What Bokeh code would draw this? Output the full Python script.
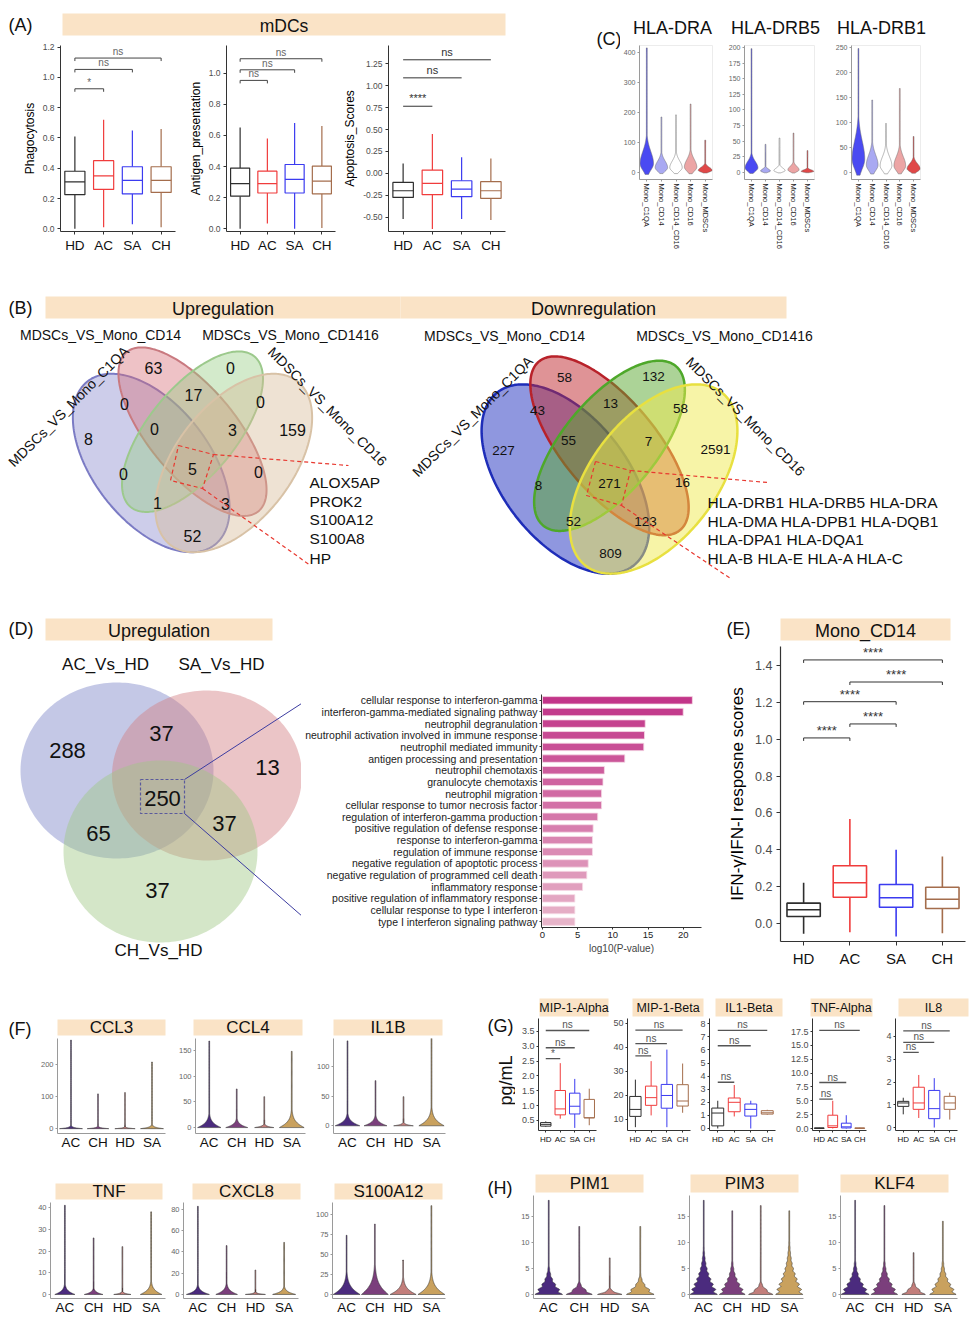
import math
import numpy as np
from bokeh.plotting import figure
from bokeh.layouts import row, column
from bokeh.models import Range1d, FactorRange, FixedTicker, NumeralTickFormatter
from bokeh.core.properties import value
from bokeh.embed import file_html
from bokeh.resources import INLINE

FONT = "Liberation Sans"
BEIGE = "#fae3c6"

# ================= DATA =================
# ---- (A) mDCs scores ----
GROUPS = ["HD", "AC", "SA", "CH"]
GROUP_COLORS = ["#2e2e2e", "#f03c3c", "#3b3bf0", "#a46d4c"]

PHAGO_LOW = [0.00, 0.01, 0.03, 0.01]
PHAGO_Q1 = [0.225, 0.26, 0.23, 0.24]
PHAGO_MED = [0.31, 0.35, 0.32, 0.32]
PHAGO_Q3 = [0.38, 0.45, 0.41, 0.41]
PHAGO_HIGH = [0.61, 0.72, 0.65, 0.66]
PHAGO_TESTS = [("HD", "AC", 0.925, "*"), ("HD", "SA", 1.053, "ns"), ("HD", "CH", 1.128, "ns")]
PHAGO_TICKS = [0.0, 0.2, 0.4, 0.6, 0.8, 1.0, 1.2]

ANTIGEN_LOW = [0.00, 0.035, 0.00, 0.005]
ANTIGEN_Q1 = [0.21, 0.23, 0.23, 0.225]
ANTIGEN_MED = [0.29, 0.29, 0.317, 0.306]
ANTIGEN_Q3 = [0.39, 0.37, 0.413, 0.403]
ANTIGEN_HIGH = [0.65, 0.58, 0.68, 0.66]
ANTIGEN_TESTS = [("HD", "AC", 0.953, "ns"), ("HD", "SA", 1.021, "ns"), ("HD", "CH", 1.092, "ns")]
ANTIGEN_TICKS = [0.0, 0.2, 0.4, 0.6, 0.8, 1.0]

APOP_LOW = [-0.52, -0.635, -0.52, -0.533]
APOP_Q1 = [-0.274, -0.243, -0.266, -0.285]
APOP_MED = [-0.198, -0.114, -0.179, -0.198]
APOP_Q3 = [-0.103, 0.038, -0.084, -0.095]
APOP_HIGH = [0.114, 0.449, 0.183, 0.171]
APOP_TESTS = [("HD", "AC", 0.766, "****"), ("HD", "SA", 1.09, "ns"), ("HD", "CH", 1.296, "ns")]
APOP_TICKS = [-0.5, -0.25, 0.0, 0.25, 0.5, 0.75, 1.0, 1.25]

# ---- (C) HLA violins ----
C_CELLS = ["Mono_C1QA", "Mono_CD14", "Mono_CD14_CD16", "Mono_CD16", "Mono_MDSCs"]
C_COLORS = ["#4a4af2", "#a9a9f2", "#ffffff", "#eca5a5", "#e04848"]
C_GENES = ["HLA-DRA", "HLA-DRB5", "HLA-DRB1"]
DRA_MAX = [415, 185, 192, 228, 108]
DRA_BULK = [100, 55, 55, 62, 25]
DRA_WIDTH = [0.92, 0.85, 0.85, 0.85, 0.95]
DRB5_MAX = [198, 45, 55, 63, 35]
DRB5_BULK = [25, 8, 10, 14, 6]
DRB5_WIDTH = [0.92, 0.7, 0.8, 0.8, 0.9]
DRB1_MAX = [248, 145, 98, 168, 72]
DRB1_BULK = [90, 50, 45, 45, 25]
DRB1_WIDTH = [0.92, 0.85, 0.85, 0.85, 0.95]
DRA_TICKS = [0, 100, 200, 300, 400]
DRB5_TICKS = [0, 25, 50, 75, 100, 125, 150, 175, 200]
DRB1_TICKS = [0, 50, 100, 150, 200, 250]

# ---- (B) Venn counts ----
VENN4_SETS = ["MDSCs_VS_Mono_C1QA", "MDSCs_VS_Mono_CD14", "MDSCs_VS_Mono_CD1416", "MDSCs_VS_Mono_CD16"]
UP_COUNTS = [63, 0, 0, 17, 0, 8, 0, 3, 159, 0, 5, 0, 1, 3, 52]
UP_GENES = ["ALOX5AP", "PROK2", "S100A12", "S100A8", "HP"]
DOWN_COUNTS = [58, 132, 43, 13, 58, 227, 55, 7, 2591, 8, 271, 16, 52, 123, 809]
DOWN_GENES = ["HLA-DRB1 HLA-DRB5 HLA-DRA", "HLA-DMA HLA-DPB1 HLA-DQB1",
              "HLA-DPA1 HLA-DQA1", "HLA-B  HLA-E HLA-A HLA-C"]

# ---- (D) Venn + GO ----
D_SETS = ["AC_Vs_HD", "SA_Vs_HD", "CH_Vs_HD"]
D_COUNTS = [288, 37, 13, 250, 65, 37, 37]
GO_TERMS = [
    "cellular response to interferon-gamma",
    "interferon-gamma-mediated signaling pathway",
    "neutrophil degranulation",
    "neutrophil activation involved in immune response",
    "neutrophil mediated immunity",
    "antigen processing and presentation",
    "neutrophil chemotaxis",
    "granulocyte chemotaxis",
    "neutrophil migration",
    "cellular response to tumor necrosis factor",
    "regulation of interferon-gamma production",
    "positive regulation of defense response",
    "response to interferon-gamma",
    "regulation of immune response",
    "negative regulation of apoptotic process",
    "negative regulation of programmed cell death",
    "inflammatory response",
    "positive regulation of inflammatory response",
    "cellular response to type I interferon",
    "type I interferon signaling pathway",
]
GO_LOG10P = [21.3, 20.0, 14.6, 14.5, 14.4, 11.7, 8.8, 8.6, 8.4, 8.4,
             7.85, 7.2, 7.1, 7.1, 6.5, 6.3, 5.7, 4.6, 4.6, 4.6]
GO_TICKS = [0, 5, 10, 15, 20]

# ---- (E) IFN scores ----
E_LOW = [-0.058, -0.049, -0.072, -0.054]
E_Q1 = [0.036, 0.141, 0.087, 0.080]
E_MED = [0.073, 0.220, 0.138, 0.130]
E_Q3 = [0.109, 0.312, 0.210, 0.195]
E_HIGH = [0.220, 0.567, 0.399, 0.363]
E_TESTS = [("HD", "AC", 1.007, "****"), ("AC", "SA", 1.083, "****"), ("HD", "SA", 1.204, "****"),
           ("AC", "CH", 1.311, "****"), ("HD", "CH", 1.431, "****")]
E_TICKS = [0.0, 0.2, 0.4, 0.6, 0.8, 1.0, 1.2, 1.4]

# ---- (F)/(H) violins ----
F_GROUPS = ["AC", "CH", "HD", "SA"]
F_COLORS = ["#4b2b7e", "#7b3f7c", "#c27e7b", "#c9a15e"]
CCL3_MAX = [275, 108, 112, 207]
CCL3_BULK = [3, 2.5, 2, 4]
CCL3_WIDTH = [0.85, 0.8, 0.75, 0.85]
CCL4_MAX = [168, 75, 60, 148]
CCL4_BULK = [9, 6, 2.5, 11]
CCL4_WIDTH = [0.85, 0.8, 0.7, 0.9]
IL1B_MAX = [143, 76, 49, 152]
IL1B_BULK = [7, 6, 2, 10]
IL1B_WIDTH = [0.88, 0.82, 0.7, 0.9]
TNF_MAX = [41, 26, 22, 38]
TNF_BULK = [1.6, 1.0, 0.5, 2.0]
TNF_WIDTH = [0.7, 0.65, 0.6, 0.75]
CXCL8_MAX = [83, 46, 23, 49]
CXCL8_BULK = [3, 3.5, 0.8, 2.5]
CXCL8_WIDTH = [0.8, 0.75, 0.7, 0.8]
S100A12_MAX = [74, 88, 43, 111]
S100A12_BULK = [9, 12, 7, 9]
S100A12_WIDTH = [0.95, 0.95, 0.92, 0.95]
PIM1_MAX = [18, 13, 7, 13]
PIM1_BULK = [2.5, 1.2, 0.6, 1.8]
PIM1_WIDTH = [0.9, 0.85, 0.8, 0.9]
PIM3_MAX = [18, 16, 17, 16]
PIM3_BULK = [4, 3, 1.2, 4.5]
PIM3_WIDTH = [0.95, 0.9, 0.85, 0.95]
KLF4_MAX = [18, 17, 8, 14]
KLF4_BULK = [3, 3, 1.2, 3]
KLF4_WIDTH = [0.95, 0.9, 0.8, 0.9]
CCL3_TICKS = [0, 100, 200]
CCL4_TICKS = [0, 50, 100, 150]
IL1B_TICKS = [0, 50, 100, 150]
TNF_TICKS = [0, 10, 20, 30, 40]
CXCL8_TICKS = [0, 20, 40, 60, 80]
S100A12_TICKS = [0, 25, 50, 75, 100]
H_TICKS = [0, 5, 10, 15]

# ---- (G) cytokines (pg/mL) ----
MIP1A_LOW = [0.28, 0.56, 0.25, 0.34]
MIP1A_Q1 = [0.31, 0.69, 0.72, 0.59]
MIP1A_MED = [0.37, 0.89, 0.98, 0.59]
MIP1A_Q3 = [0.43, 1.51, 1.42, 1.21]
MIP1A_HIGH = [0.47, 2.43, 1.90, 1.57]
MIP1A_TESTS = [("HD", "AC", 2.58, "*"), ("HD", "SA", 2.95, "ns"), ("HD", "CH", 3.53, "ns")]
MIP1A_TICKS = [0.5, 1.0, 1.5, 2.0, 2.5, 3.0, 3.5]

MIP1B_LOW = [6.8, 11.7, 6.8, 12.8]
MIP1B_Q1 = [11.3, 15.9, 14.7, 15.6]
MIP1B_MED = [14.2, 19.1, 20.0, 17.7]
MIP1B_Q3 = [19.6, 23.9, 24.6, 24.5]
MIP1B_HIGH = [26.6, 34.3, 39.1, 33.3]
MIP1B_TESTS = [("HD", "AC", 36.5, "ns"), ("HD", "SA", 41.6, "ns"), ("HD", "CH", 47.2, "ns")]
MIP1B_TICKS = [10, 20, 30, 40, 50]

IL1BETA_LOW = [0.0, 0.92, 0.0, 1.05]
IL1BETA_Q1 = [0.2, 1.28, 0.95, 1.1]
IL1BETA_MED = [1.18, 2.0, 1.46, 1.2]
IL1BETA_Q3 = [1.56, 2.33, 1.87, 1.36]
IL1BETA_HIGH = [2.12, 3.32, 2.12, 1.43]
IL1BETA_TESTS = [("HD", "AC", 3.53, "ns"), ("HD", "SA", 6.32, "ns"), ("HD", "CH", 7.49, "ns")]
IL1BETA_TICKS = [0, 1, 2, 3, 4, 5, 6, 7, 8]

TNFA_LOW = [0.0, 0.0, 0.0, 0.0]
TNFA_Q1 = [0.02, 0.18, 0.1, 0.02]
TNFA_MED = [0.05, 0.48, 0.3, 0.05]
TNFA_Q3 = [0.1, 2.4, 0.96, 0.1]
TNFA_HIGH = [0.15, 5.0, 2.4, 0.15]
TNFA_TESTS = [("HD", "AC", 5.3, "ns"), ("HD", "SA", 8.3, "ns"), ("HD", "CH", 17.7, "ns")]
TNFA_TICKS = [0.0, 2.5, 5.0, 7.5, 10.0, 12.5, 15.0, 17.5]

IL8_LOW = [0.58, 0.42, 0.0, 0.35]
IL8_Q1 = [0.93, 0.8, 0.39, 0.8]
IL8_MED = [1.08, 1.08, 0.83, 1.08]
IL8_Q3 = [1.15, 1.77, 1.63, 1.37]
IL8_HIGH = [1.31, 2.31, 2.17, 1.53]
IL8_TESTS = [("HD", "AC", 3.3, "ns"), ("HD", "SA", 3.74, "ns"), ("HD", "CH", 4.25, "ns")]
IL8_TICKS = [0, 1, 2, 3, 4]

# ================= LAYOUT GEOMETRY (not data) =================
VENN4_GEOM = [(0.35, 0.47, 0.35, 0.20, 135), (0.50, 0.57, 0.35, 0.15, 135),
              (0.50, 0.57, 0.33, 0.15, 45), (0.65, 0.47, 0.35, 0.20, 45)]
UP_POS_X = [153, 230, 124, 193, 260, 88, 154, 232, 292, 123, 192, 258, 157, 225, 192]
UP_POS_Y = [367, 367, 403, 394, 401, 438, 428, 429, 429, 473, 468, 471, 502, 503, 535]
DOWN_POS_X = [564, 653, 537, 610, 680, 503, 568, 648, 715, 538, 609, 682, 573, 645, 610]
DOWN_POS_Y = [377, 376, 410, 403, 408, 450, 440, 441, 449, 485, 483, 482, 521, 521, 553]
D_POS_X = [67, 161, 267, 162, 98, 224, 157]
D_POS_Y = [750, 733, 767, 798, 833, 823, 890]
D_ELL = [(116.5, 770, 96.5, 88), (206.5, 775, 95, 85), (160, 851, 97, 91)]


# ================= HELPERS =================
def canvas(x0, x1, y0, y1):
    p = figure(width=x1 - x0, height=y1 - y0, x_range=Range1d(x0, x1), y_range=Range1d(y1, y0),
               x_axis_type=None, y_axis_type=None, toolbar_location=None, output_backend="svg",
               min_border=0, min_border_left=0, min_border_right=0, min_border_top=0,
               min_border_bottom=0, outline_line_color=None)
    return p


def txt(p, x, y, s, size, color="#111111", align="center", angle=0.0, baseline="middle"):
    p.text(x=[x], y=[y], text=[s], text_font=value(FONT), text_font_size=size,
           text_color=color, text_align=align, text_baseline=baseline, angle=angle)


def strip(p, x0, x1, y0, y1, label, size, dy=1):
    p.quad(left=[x0], right=[x1], top=[y0], bottom=[y1], fill_color=BEIGE, line_color=None)
    txt(p, (x0 + x1) / 2, (y0 + y1) / 2 + dy, label, size)


def make_axes(x0, x1, y0, y1, bl, br, bt, bb, factors, ylo, yhi, outline=None):
    p = figure(width=x1 - x0, height=y1 - y0,
               x_range=FactorRange(factors=factors, range_padding=0),
               y_range=Range1d(ylo, yhi), toolbar_location=None, output_backend="svg",
               min_border_left=bl, min_border_right=br, min_border_top=bt, min_border_bottom=bb,
               outline_line_color=outline)
    p.xgrid.visible = False
    p.ygrid.visible = False
    return p


def px2u(p, px):
    fh = p.height - p.min_border_top - p.min_border_bottom
    return px * (p.y_range.end - p.y_range.start) / fh


def style_axes(p, yticks, fmt, ysize, xsize, line="#333333", ycol="#4d4d4d", xcol="#111111",
               tick_out=3, standoff=3, lw=1.0):
    p.yaxis.ticker = FixedTicker(ticks=yticks)
    if fmt:
        p.yaxis.formatter = NumeralTickFormatter(format=fmt)
    for ax in list(p.xaxis) + list(p.yaxis):
        ax.axis_line_color = line
        ax.axis_line_width = lw
        ax.major_tick_line_color = line
        ax.major_tick_in = 0
        ax.major_tick_out = tick_out
        ax.minor_tick_line_color = None
        ax.major_label_standoff = standoff
        ax.major_label_text_font = FONT
    p.yaxis.major_label_text_font_size = ysize
    p.yaxis.major_label_text_color = ycol
    p.xaxis.major_label_text_font_size = xsize
    p.xaxis.major_label_text_color = xcol


def ylabel(p, s, size, standoff=3):
    p.yaxis.axis_label = s
    p.yaxis.axis_label_text_font = FONT
    p.yaxis.axis_label_text_font_size = size
    p.yaxis.axis_label_text_font_style = "normal"
    p.yaxis.axis_label_text_color = "#000000"
    p.yaxis.axis_label_standoff = standoff


def draw_boxes(p, low, q1, med, q3, high, colors, w, lw):
    xs = [i + 0.5 for i in range(len(low))]
    p.segment(x0=xs, y0=low, x1=xs, y1=q1, line_color=colors, line_width=lw)
    p.segment(x0=xs, y0=q3, x1=xs, y1=high, line_color=colors, line_width=lw)
    p.vbar(x=xs, width=w, bottom=q1, top=q3, fill_color="white", line_color=colors, line_width=lw)
    p.segment(x0=[x - w / 2 for x in xs], y0=med, x1=[x + w / 2 for x in xs], y1=med,
              line_color=colors, line_width=lw)


def draw_tests(p, groups, tests, tick_px, gap_px, size, color, lcolor=None, lw=1.0):
    tk = px2u(p, tick_px)
    gp = px2u(p, gap_px)
    xs, ys, tx, ty, tt = [], [], [], [], []
    for a, b, y, lab in tests:
        i = groups.index(a) + 0.5
        j = groups.index(b) + 0.5
        if tick_px > 0:
            xs.append([i, i, j, j])
            ys.append([y - tk, y, y, y - tk])
        else:
            xs.append([i, j])
            ys.append([y, y])
        tx.append((i + j) / 2)
        ty.append(y + gp)
        tt.append(lab)
    p.multi_line(xs, ys, line_color=lcolor or color, line_width=lw)
    p.text(x=tx, y=ty, text=tt, text_font=value(FONT), text_font_size=size, text_color=color,
           text_align="center", text_baseline="bottom")


def draw_violins(p, vmax, bulk, width, colors, kind, thin, line_color="#3a3a3a", lw=0.6):
    xs_all, ys_all = [], []
    for i in range(len(vmax)):
        c = i + 0.5
        top = vmax[i]
        b = bulk[i]
        if kind == "C":
            pk = 0.3 * b
            mid = min(top, 4 * b)
            ys = np.concatenate([np.linspace(-0.06 * b, mid, 160), np.linspace(mid, top, 40)[1:]])
            s = np.where(ys < pk, 0.22 * b, 0.4 * b)
            f = np.exp(-0.5 * ((ys - pk) / s) ** 2)
        elif kind == "H":
            mid = min(top, 6 * b)
            ys = np.concatenate([np.linspace(0, mid, 260), np.linspace(mid, top, 40)[1:]])
            f = np.exp(-(ys / b) ** 1.5) * (1 + 0.14 * np.cos(2 * np.pi * ys)) / 1.14
        else:
            mid = min(top, 6 * b)
            ys = np.concatenate([np.linspace(0, mid, 220), np.linspace(mid, top, 40)[1:]])
            f = np.exp(-(ys / b) ** 1.1)
        hw = np.maximum(width[i] / 2 * f, thin)
        xs_all.append(np.concatenate([c - hw, (c + hw)[::-1]]).tolist())
        ys_all.append(np.concatenate([ys, ys[::-1]]).tolist())
    p.patches(xs_all, ys_all, fill_color=colors, line_color=line_color, line_width=lw)


def venn4(p, ox, oy, sx, sy, fills, lines, alpha, lw):
    t = np.linspace(0, 2 * np.pi, 240)
    xs, ys = [], []
    for (cx, cy, a, b, ang) in VENN4_GEOM:
        th = math.radians(ang)
        ux = cx + a * np.cos(t) * math.cos(th) - b * np.sin(t) * math.sin(th)
        uy = cy + a * np.cos(t) * math.sin(th) + b * np.sin(t) * math.cos(th)
        xs.append((ox + (ux - 0.5) * sx).tolist())
        ys.append((oy + (0.839 - uy) * sy).tolist())
    p.patches(xs, ys, fill_color=fills, fill_alpha=alpha, line_color=lines, line_width=lw)


# ================= ROW 1 : (A) + (C) =================
A_head = canvas(0, 514, 0, 38)
txt(A_head, 8, 24, "(A)", "18px", align="left")
strip(A_head, 62, 505, 13, 35, "mDCs", "17.5px")

a1 = make_axes(0, 185, 38, 270, 60, 10, 7, 39, GROUPS, -0.018, 1.211)
draw_boxes(a1, PHAGO_LOW, PHAGO_Q1, PHAGO_MED, PHAGO_Q3, PHAGO_HIGH, GROUP_COLORS, 0.7, 1.2)
draw_tests(a1, GROUPS, PHAGO_TESTS, 3, 1, "10px", "#666666", "#444444")
style_axes(a1, PHAGO_TICKS, "0.0", "8.5px", "13.5px")
ylabel(a1, "Phagocytosis", "12px")

a2 = make_axes(185, 340, 38, 270, 35, 5, 7, 39, GROUPS, -0.017, 1.177)
draw_boxes(a2, ANTIGEN_LOW, ANTIGEN_Q1, ANTIGEN_MED, ANTIGEN_Q3, ANTIGEN_HIGH, GROUP_COLORS, 0.7, 1.2)
draw_tests(a2, GROUPS, ANTIGEN_TESTS, 3, 1, "10px", "#666666", "#444444")
style_axes(a2, ANTIGEN_TICKS, "0.0", "8.5px", "13.5px")
ylabel(a2, "Antigen_presentation", "12px")

a3 = make_axes(340, 514, 38, 270, 47, 9, 7, 39, GROUPS, -0.663, 1.459)
draw_boxes(a3, APOP_LOW, APOP_Q1, APOP_MED, APOP_Q3, APOP_HIGH, GROUP_COLORS, 0.7, 1.2)
draw_tests(a3, GROUPS, APOP_TESTS, 0, 2, "11px", "#333333", "#333333")
style_axes(a3, APOP_TICKS, "0.00", "8.5px", "13.5px")
ylabel(a3, "Apoptosis_Scores", "12px")

C_left = canvas(514, 620, 0, 270)
txt(C_left, 596, 38, "(C)", "18px", align="left")
C_head = canvas(620, 980, 0, 43)
for gname, cx in zip(C_GENES, [672, 775, 881]):
    txt(C_head, cx, 27, gname, "18px")

v1 = make_axes(620, 722, 43, 270, 19, 10, 2, 91, C_CELLS, -23, 423, outline="#ececec")
draw_violins(v1, DRA_MAX, DRA_BULK, DRA_WIDTH, C_COLORS, "C", 0.03, "#6a6a6a", 0.5)
v2 = make_axes(722, 832, 43, 270, 22, 18, 2, 91, C_CELLS, -11.2, 203, outline="#ececec")
draw_violins(v2, DRB5_MAX, DRB5_BULK, DRB5_WIDTH, C_COLORS, "C", 0.03, "#6a6a6a", 0.5)
v3 = make_axes(832, 980, 43, 270, 18, 60, 2, 91, C_CELLS, -14, 254, outline="#ececec")
draw_violins(v3, DRB1_MAX, DRB1_BULK, DRB1_WIDTH, C_COLORS, "C", 0.03, "#6a6a6a", 0.5)
for v, tk in ((v1, DRA_TICKS), (v2, DRB5_TICKS), (v3, DRB1_TICKS)):
    style_axes(v, tk, None, "7px", "7.5px", line="#9a9a9a", ycol="#666666", xcol="#222222",
               tick_out=2, standoff=2)
    v.xaxis.major_label_orientation = "vertical"

row1 = row(column(A_head, row(a1, a2, a3)), C_left, column(C_head, row(v1, v2, v3)))

# ================= ROW 2 : (B) =================
B = canvas(0, 980, 270, 600)
strip(B, 45, 400, 296, 318, "Upregulation", "18px")
strip(B, 400, 786, 296, 318, "Downregulation", "18px")
txt(B, 8, 307, "(B)", "18px", align="left")

venn4(B, 192, 347, 275, 313, ["#8787cd", "#d76e76", "#96cd82", "#d7b996"],
      ["#7b7bc4", "#c97a80", "#9cc98c", "#d8c2a6"], 0.42, 2)
B.text(x=UP_POS_X, y=UP_POS_Y, text=[str(c) for c in UP_COUNTS], text_font=value(FONT),
       text_font_size="16px", text_color="#111111", text_align="center", text_baseline="middle")
txt(B, 100, 334, VENN4_SETS[1], "14px")
txt(B, 290, 334, VENN4_SETS[2], "14px")
txt(B, 68, 406, VENN4_SETS[0], "14px", angle=math.pi / 4)
txt(B, 327, 406, VENN4_SETS[3], "14px", angle=-math.pi / 4)
B.multi_line([[178, 213, 202, 170, 178], [213, 348], [202, 310]],
             [[445, 454, 488, 480, 445], [454, 465], [488, 565]],
             line_color="#e8382f", line_width=1.2, line_dash="4 3")
B.text(x=[309] * len(UP_GENES), y=[482, 501, 519, 538, 558], text=UP_GENES, text_font=value(FONT),
       text_font_size="15.5px", text_color="#111111", text_align="left", text_baseline="middle")

venn4(B, 609, 356, 294, 332, ["#1f2fbf", "#c0282e", "#5aa830", "#f0ea50"],
      ["#1e2db8", "#b8222a", "#4ea82a", "#e8e040"], 0.5, 2.5)
B.text(x=DOWN_POS_X, y=DOWN_POS_Y, text=[str(c) for c in DOWN_COUNTS], text_font=value(FONT),
       text_font_size="13.5px", text_color="#111111", text_align="center", text_baseline="middle")
txt(B, 504, 335, VENN4_SETS[1], "14px")
txt(B, 724, 335, VENN4_SETS[2], "14px")
txt(B, 472, 416, VENN4_SETS[0], "14px", angle=math.pi / 4)
txt(B, 745, 416, VENN4_SETS[3], "14px", angle=-math.pi / 4)
B.multi_line([[595, 630, 621, 586, 595], [630, 767], [621, 730]],
             [[461, 470, 505, 495, 461], [470, 482], [505, 578]],
             line_color="#e8382f", line_width=1.2, line_dash="4 3")
B.text(x=[707] * len(DOWN_GENES), y=[502, 521, 539, 558], text=DOWN_GENES, text_font=value(FONT),
       text_font_size="15.5px", text_color="#111111", text_align="left", text_baseline="middle")

# ================= ROW 3 : (D) + (E) =================
D = canvas(0, 301, 600, 975)
txt(D, 8, 628, "(D)", "18px", align="left")
strip(D, 45, 272, 618, 640, "Upregulation", "18px")
t = np.linspace(0, 2 * np.pi, 200)
D.patches([(cx + rx * np.cos(t)).tolist() for cx, cy, rx, ry in D_ELL],
          [(cy + ry * np.sin(t)).tolist() for cx, cy, rx, ry in D_ELL],
          fill_color=["#7c85c7", "#d37e83", "#a0c785"], fill_alpha=0.45, line_color=None)
D.text(x=D_POS_X, y=D_POS_Y, text=[str(c) for c in D_COUNTS], text_font=value(FONT),
       text_font_size="22px", text_color="#111111", text_align="center", text_baseline="middle")
txt(D, 105, 664, D_SETS[0], "17px")
txt(D, 221, 664, D_SETS[1], "17px")
txt(D, 158, 950, D_SETS[2], "17px")
D.multi_line([[140, 184, 184, 140, 140]], [[779, 779, 813, 813, 779]], line_color="#5a5a9c",
             line_width=1.2, line_dash="3 2")
D.multi_line([[184, 318], [184, 318]], [[779, 692], [813, 930]], line_color="#3c3ca0", line_width=1)

go_c0 = np.array([194, 53, 137])
go_c1 = np.array([231, 180, 201])
GO_COLORS = ["#%02x%02x%02x" % tuple(int(v) for v in (go_c0 + (go_c1 - go_c0) * k / (len(GO_TERMS) - 1)))
             for k in range(len(GO_TERMS))]
bar = figure(width=419, height=375, x_range=Range1d(-0.14, 22.6),
             y_range=FactorRange(factors=GO_TERMS[::-1], range_padding=0),
             toolbar_location=None, output_backend="svg", min_border_left=240, min_border_right=19,
             min_border_top=94, min_border_bottom=48, outline_line_color=None)
bar.xgrid.visible = False
bar.ygrid.visible = False
bar.hbar(y=GO_TERMS, left=0, right=GO_LOG10P, height=0.64, fill_color=GO_COLORS,
         line_color="#f6dbe6", line_width=0.8)
bar.xaxis.ticker = FixedTicker(ticks=GO_TICKS)
for ax in list(bar.xaxis) + list(bar.yaxis):
    ax.axis_line_color = "#333333"
    ax.major_tick_line_color = "#333333"
    ax.major_tick_in = 0
    ax.major_tick_out = 2
    ax.minor_tick_line_color = None
    ax.major_label_standoff = 2
    ax.major_label_text_font = FONT
bar.yaxis.major_label_text_font_size = "10.5px"
bar.yaxis.major_label_text_color = "#222222"
bar.xaxis.major_label_text_font_size = "9.5px"
bar.xaxis.major_label_text_color = "#222222"
bar.xaxis.axis_label = "log10(P-value)"
bar.xaxis.axis_label_text_font = FONT
bar.xaxis.axis_label_text_font_size = "10px"
bar.xaxis.axis_label_text_font_style = "normal"
bar.xaxis.axis_label_standoff = 2

E_head = canvas(720, 980, 600, 645)
txt(E_head, 726, 628, "(E)", "18px", align="left")
strip(E_head, 780, 950, 618, 640, "Mono_CD14", "18px")
E_box = make_axes(720, 980, 645, 975, 60, 15, 1, 34, GROUPS, -0.0995, 1.504)
draw_boxes(E_box, E_LOW, E_Q1, E_MED, E_Q3, E_HIGH, GROUP_COLORS, 0.72, 1.6)
draw_tests(E_box, GROUPS, E_TESTS, 3, 0, "13px", "#333333")
style_axes(E_box, E_TICKS, "0.0", "12.5px", "15px", tick_out=4, standoff=4, lw=1.2)
ylabel(E_box, "IFN-\u03b3/IFN-I resposne scores", "17px", standoff=5)

# single-child wrappers keep the frames of neighbouring plots independent
row3 = row(column(D), column(bar), column(row(E_head), row(E_box)))

# ================= ROW 4 : (F) (G) (H) =================
F_left = canvas(0, 35, 975, 1320)
txt(F_left, 8, 1028, "(F)", "18px", align="left")
F_head1 = canvas(35, 480, 975, 1038)
for x0, x1, lab in ((57, 165, "CCL3"), (193, 302, "CCL4"), (333, 442, "IL1B")):
    strip(F_head1, x0, x1, 1019, 1035, lab, "17px", dy=0)
F_head2 = canvas(35, 480, 1152, 1202)
for x0, x1, lab in ((55, 162, "TNF"), (192, 300, "CXCL8"), (334, 442, "S100A12")):
    strip(F_head2, x0, x1, 1183, 1199, lab, "17px", dy=0)

f1 = make_axes(35, 175, 1038, 1152, 22, 10, 0, 18, F_GROUPS, -15, 280)
draw_violins(f1, CCL3_MAX, CCL3_BULK, CCL3_WIDTH, F_COLORS, "F", 0.014)
f2 = make_axes(175, 312, 1038, 1152, 18, 7, 0, 18, F_GROUPS, -11.5, 173)
draw_violins(f2, CCL4_MAX, CCL4_BULK, CCL4_WIDTH, F_COLORS, "F", 0.014)
f3 = make_axes(312, 480, 1038, 1152, 21, 35, 0, 18, F_GROUPS, -13, 147)
draw_violins(f3, IL1B_MAX, IL1B_BULK, IL1B_WIDTH, F_COLORS, "F", 0.014)
f4 = make_axes(35, 168, 1202, 1320, 12, 3, 0, 22, F_GROUPS, -1.84, 42.3)
draw_violins(f4, TNF_MAX, TNF_BULK, TNF_WIDTH, F_COLORS, "F", 0.014)
f5 = make_axes(168, 312, 1202, 1320, 13, 14, 0, 22, F_GROUPS, -3.8, 86.6)
draw_violins(f5, CXCL8_MAX, CXCL8_BULK, CXCL8_WIDTH, F_COLORS, "F", 0.014)
f6 = make_axes(312, 480, 1202, 1320, 16, 35, 0, 22, F_GROUPS, -5, 115)
draw_violins(f6, S100A12_MAX, S100A12_BULK, S100A12_WIDTH, F_COLORS, "F", 0.014)
for f, tk in ((f1, CCL3_TICKS), (f2, CCL4_TICKS), (f3, IL1B_TICKS), (f4, TNF_TICKS),
              (f5, CXCL8_TICKS), (f6, S100A12_TICKS)):
    style_axes(f, tk, None, "7.5px", "13.5px", line="#9a9a9a", ycol="#666666", xcol="#111111",
               tick_out=2, standoff=2)
    f.xaxis.major_tick_out = 0
    f.xaxis.major_label_standoff = 1

G_left = canvas(480, 515, 975, 1150)
txt(G_left, 487, 1025, "(G)", "18px", align="left")
txt(G_left, 505, 1080, "pg/mL", "18px", angle=math.pi / 2)
G_head = canvas(515, 980, 975, 1018)
for x0, x1, lab in ((539, 608, "MIP-1-Alpha"), (632, 703, "MIP-1-Beta"), (715, 782, "IL1-Beta"),
                    (810, 872, "TNF-Alpha"), (898, 968, "IL8")):
    strip(G_head, x0, x1, 998, 1016, lab, "12.5px", dy=0)

g_specs = [
    (515, 610, 23, 14, 0.163, 3.934, MIP1A_LOW, MIP1A_Q1, MIP1A_MED, MIP1A_Q3, MIP1A_HIGH, MIP1A_TESTS, MIP1A_TICKS, "0.0"),
    (610, 697, 14, 7, 5.42, 52.05, MIP1B_LOW, MIP1B_Q1, MIP1B_MED, MIP1B_Q3, MIP1B_HIGH, MIP1B_TESTS, MIP1B_TICKS, None),
    (697, 787, 11, 12, -0.153, 8.40, IL1BETA_LOW, IL1BETA_Q1, IL1BETA_MED, IL1BETA_Q3, IL1BETA_HIGH, IL1BETA_TESTS, IL1BETA_TICKS, None),
    (787, 878, 21, 12, -0.36, 19.85, TNFA_LOW, TNFA_Q1, TNFA_MED, TNFA_Q3, TNFA_HIGH, TNFA_TESTS, TNFA_TICKS, "0.0"),
    (878, 980, 17, 23, -0.13, 4.79, IL8_LOW, IL8_Q1, IL8_MED, IL8_Q3, IL8_HIGH, IL8_TESTS, IL8_TICKS, None),
]
g_figs = []
for (x0, x1, bl, br, ylo, yhi, lo, q1, md, q3, hi, tests, tk, fmt) in g_specs:
    g = make_axes(x0, x1, 1018, 1150, bl, br, 0, 20, GROUPS, ylo, yhi)
    draw_boxes(g, lo, q1, md, q3, hi, GROUP_COLORS, 0.72, 1.0)
    draw_tests(g, GROUPS, tests, 0, 0, "10px", "#555555", "#555555", lw=1.3)
    style_axes(g, tk, fmt, "9px", "8px", tick_out=2, standoff=2)
    g_figs.append(g)

H_left = canvas(480, 518, 1150, 1320)
txt(H_left, 487, 1187, "(H)", "18px", align="left")
H_head = canvas(518, 980, 1150, 1195)
for x0, x1, lab in ((535, 643, "PIM1"), (690, 798, "PIM3"), (840, 948, "KLF4")):
    strip(H_head, x0, x1, 1174, 1192, lab, "17px", dy=0)
h1 = make_axes(518, 665, 1195, 1320, 15, 10, 0, 22, F_GROUPS, -0.76, 18.93)
draw_violins(h1, PIM1_MAX, PIM1_BULK, PIM1_WIDTH, F_COLORS, "H", 0.014)
h2 = make_axes(665, 818, 1195, 1320, 24, 15, 0, 22, F_GROUPS, -0.76, 18.93)
draw_violins(h2, PIM3_MAX, PIM3_BULK, PIM3_WIDTH, F_COLORS, "H", 0.014)
h3 = make_axes(818, 980, 1195, 1320, 22, 23, 0, 22, F_GROUPS, -0.76, 18.93)
draw_violins(h3, KLF4_MAX, KLF4_BULK, KLF4_WIDTH, F_COLORS, "H", 0.014)
for h in (h1, h2, h3):
    style_axes(h, H_TICKS, None, "7.5px", "13.5px", line="#9a9a9a", ycol="#666666", xcol="#111111",
               tick_out=2, standoff=2)
    h.xaxis.major_tick_out = 0
    h.xaxis.major_label_standoff = 1

F_block = column(F_head1, row(f1, f2, f3), F_head2, row(f4, f5, f6))
GH_block = column(row(G_left, column(G_head, row(*g_figs))),
                  row(H_left, column(H_head, row(h1, h2, h3))))
row4 = row(F_left, F_block, GH_block)

layout = column(row1, B, row3, row4)
open("out.html", "w").write(file_html(layout, INLINE, "figure"))
